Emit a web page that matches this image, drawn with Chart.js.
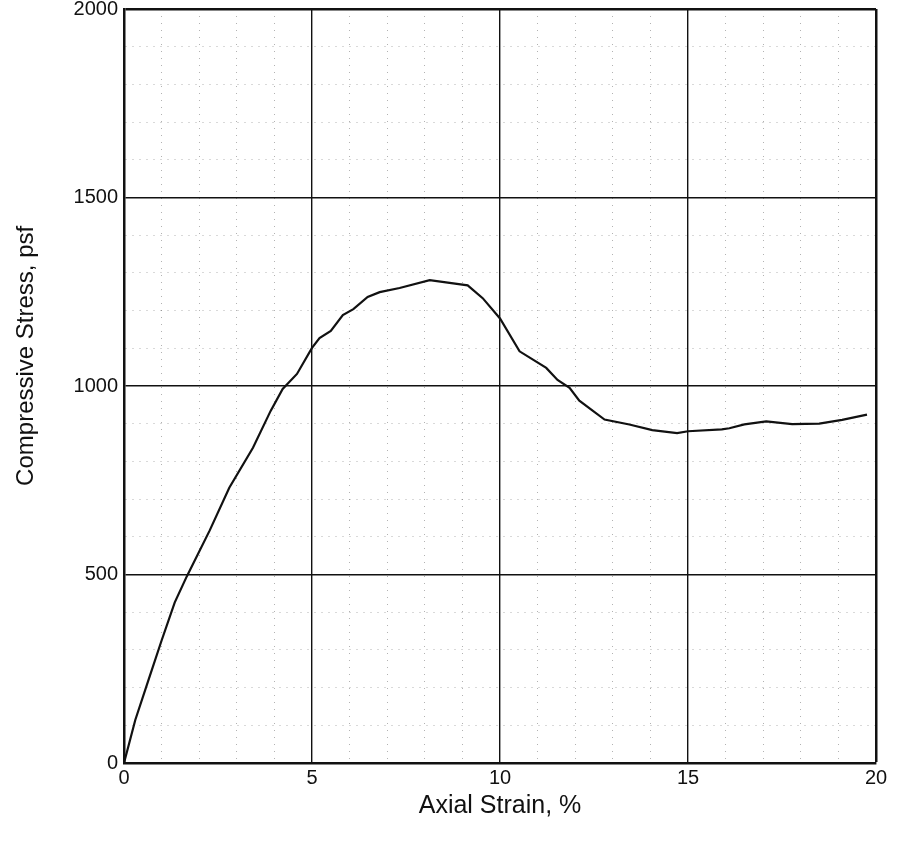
<!DOCTYPE html>
<html>
<head>
<meta charset="utf-8">
<title>Compressive Stress vs Axial Strain</title>
<script src="https://cdn.jsdelivr.net/npm/chart.js@4/dist/chart.umd.min.js"></script>
<style>
  html, body { margin: 0; padding: 0; background: #fff; }
  #wrap { width: 906px; height: 843px; position: relative; }
</style>
</head>
<body>
<div id="wrap"><canvas id="myChart"></canvas></div>
<script>
// values
const strain = [0, 0.3, 0.65, 1.0, 1.35, 1.67, 2.28, 2.8, 3.43, 3.9, 4.22, 4.6, 5.0, 5.2, 5.5, 5.82,
  6.1, 6.48, 6.8, 7.33, 8.13, 9.14, 9.54, 10.0, 10.52, 11.23, 11.53, 11.85, 12.11, 12.78, 13.44,
  14.05, 14.71, 15.0, 15.9, 16.1, 16.5, 17.08, 17.77, 18.49, 19.1, 19.76];
const stress = [0, 114, 220, 325, 426, 495, 617, 730, 836, 934, 992, 1032, 1101, 1127, 1146, 1188,
  1204, 1236, 1249, 1260, 1281, 1267, 1233, 1179, 1092, 1048, 1016, 995, 961, 911, 898,
  883, 875, 880, 885, 888, 898, 906, 899, 900, 910, 924];

const xTicks = [0, 5, 10, 15, 20];
const yTicks = [0, 500, 1000, 1500, 2000];

const xTitle = 'Axial Strain, %';
const yTitle = 'Compressive Stress, psf';

document.addEventListener('DOMContentLoaded', () => {
  const canvas = document.getElementById('myChart');
  const ctx = canvas.getContext('2d');

  const fontFamily = '"Liberation Sans", Arial, sans-serif';

  const isMajor = (list, v) => list.includes(v);

  // y title drawn by hand so it can sit a bit above the axis centre like the scan
  const yTitlePlugin = {
    id: 'yTitle',
    afterDraw(chart) {
      const c = chart.ctx;
      const area = chart.chartArea;
      c.save();
      c.translate(26, area.top + (area.bottom - area.top) * 0.46);
      c.rotate(-Math.PI / 2);
      c.font = '24px ' + fontFamily;
      c.fillStyle = '#111';
      c.textAlign = 'center';
      c.textBaseline = 'middle';
      c.fillText(yTitle, 0, 0);
      c.restore();
    }
  };

  const gridOpts = (list, max) => ({
    drawTicks: false,
    color: c => isMajor(list, c.tick.value) ? '#111' : 'rgba(0,0,0,0.3)',
    lineWidth: c => c.tick.value === max ? 2.5 : (isMajor(list, c.tick.value) ? 1.4 : 1)
  });

  const borderOpts = list => ({
    display: true,
    color: '#111',
    width: 2.5,
    dash: c => (c.tick && !isMajor(list, c.tick.value)) ? [1, 6] : []
  });

  new Chart(ctx, {
    type: 'line',
    data: {
      datasets: [{
        label: 'Stress',
        data: strain.map((s, i) => ({ x: s, y: stress[i] })),
        borderColor: '#111',
        borderWidth: 2.2,
        pointRadius: 0,
        tension: 0,
        fill: false
      }]
    },
    plugins: [yTitlePlugin],
    options: {
      responsive: true,
      maintainAspectRatio: false,
      animation: false,
      layout: { padding: { top: 9, right: 30, left: 0, bottom: 0 } },
      plugins: {
        legend: { display: false },
        tooltip: { enabled: false }
      },
      scales: {
        x: {
          type: 'linear',
          min: 0,
          max: 20,
          afterFit: s => { s.height = 80; },
          ticks: {
            stepSize: 1,
            autoSkip: false,
            maxRotation: 0,
            padding: 3,
            color: '#111',
            font: { size: 20, family: fontFamily },
            callback: v => isMajor(xTicks, v) ? String(v) : ''
          },
          grid: gridOpts(xTicks, 20),
          border: borderOpts(xTicks),
          title: {
            display: true,
            text: xTitle,
            color: '#111',
            font: { size: 25, family: fontFamily },
            padding: { top: 0, bottom: 22 }
          }
        },
        y: {
          type: 'linear',
          min: 0,
          max: 2000,
          afterFit: s => {
            s.width = 124;
            // let the plot frame go right up to the top like the scan
            s.paddingTop = 0;
            s.paddingBottom = 0;
          },
          ticks: {
            stepSize: 100,
            autoSkip: false,
            padding: 6,
            color: '#111',
            font: { size: 20, family: fontFamily },
            callback: v => isMajor(yTicks, v) ? String(v) : ''
          },
          grid: gridOpts(yTicks, 2000),
          border: borderOpts(yTicks)
        }
      }
    }
  });
});
</script>
</body>
</html>
